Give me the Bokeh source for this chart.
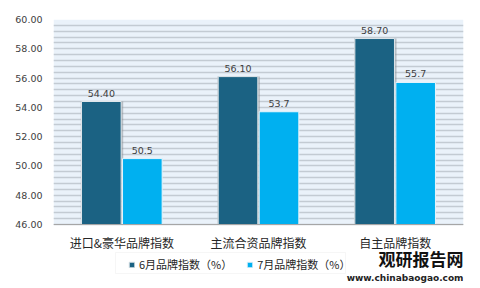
from bokeh.plotting import figure
from bokeh.models import (ColumnDataSource, Legend, LegendItem, SingleIntervalTicker, FixedTicker,
                          LabelSet, Label, BoxAnnotation, Range1d, PrintfTickFormatter, CategoricalAxis)
from bokeh.core.properties import value
from bokeh.transform import dodge
from bokeh.embed import file_html
from bokeh.resources import INLINE

categories = ["进口&豪华品牌指数", "主流合资品牌指数", "自主品牌指数"]
june_values = [54.40, 56.10, 58.70]
july_values = [50.5, 53.7, 55.7]
june_labels = ["54.40", "56.10", "58.70"]
july_labels = ["50.5", "53.7", "55.7"]
series_names = ["6月品牌指数（%）", "7月品牌指数（%）"]
y_ticks = [46, 48, 50, 52, 54, 56, 58, 60]
Y_MIN, Y_MAX = 46, 60

DARK = "#1b6283"
LIGHT = "#00b0f0"
CJK = "Noto Sans CJK SC"
NUM = "DejaVu Sans"

W, H = 480, 288
TOP, BOTTOM_PX = 19, 224          # pixel rows of 60 and 46
ppu = (BOTTOM_PX - TOP) / (Y_MAX - Y_MIN)
y_start = Y_MIN - (H - BOTTOM_PX) / ppu   # room below the axis for legend & labels

src = ColumnDataSource(dict(cat=categories, june=june_values, july=july_values,
                            jl=june_labels, ll=july_labels))

p = figure(x_range=categories, y_range=Range1d(y_start, Y_MAX), width=W, height=H,
           output_backend="svg", toolbar_location=None, x_axis_location=None,
           min_border_left=53, min_border_right=17, min_border_top=TOP, min_border_bottom=0)
p.background_fill_color = "white"
p.border_fill_color = "white"
p.outline_line_color = None

# plot-area background (below the grid)
p.add_layout(BoxAnnotation(bottom=Y_MIN, top=Y_MAX, fill_color="#eaf2fa", fill_alpha=1,
                           line_color=None, level="image"))

# grid stripes
p.xgrid.grid_line_color = None
p.ygrid.ticker = SingleIntervalTicker(interval=0.4, num_minor_ticks=0)
p.ygrid.bounds = (Y_MIN, Y_MAX)
p.ygrid.grid_line_color = "#c3cbd3"
p.ygrid.grid_line_width = 1.5

# shadow behind dark bars
p.vbar(x=dodge("cat", -0.145, range=p.x_range), bottom=Y_MIN, top="june", width=0.31,
       source=src, fill_color="#8e9499", fill_alpha=0.55, line_color=None)
r1 = p.vbar(x=dodge("cat", -0.15, range=p.x_range), bottom=Y_MIN, top="june", width=0.29,
            source=src, fill_color=DARK, line_color="#dfe6ea", line_width=1)
r2 = p.vbar(x=dodge("cat", 0.15, range=p.x_range), bottom=Y_MIN, top="july", width=0.29,
            source=src, fill_color=LIGHT, line_color="#e6f4fb", line_width=1)

p.add_layout(LabelSet(x=dodge("cat", -0.15, range=p.x_range), y="june", text="jl", source=src,
                      text_align="center", text_baseline="bottom", y_offset=5,
                      text_font=value(NUM), text_font_size=value("9.5px"),
                      text_color="#404040"))
p.add_layout(LabelSet(x=dodge("cat", 0.15, range=p.x_range), y="july", text="ll", source=src,
                      text_align="center", text_baseline="bottom", y_offset=5,
                      text_font=value(NUM), text_font_size=value("9.5px"), text_color="#404040"))

# y axis
p.yaxis.ticker = FixedTicker(ticks=y_ticks)
p.yaxis.formatter = PrintfTickFormatter(format="%.2f")
p.yaxis.axis_line_color = None
p.yaxis.major_tick_line_color = None
p.yaxis.minor_tick_line_color = None
p.yaxis.major_tick_out = 0
p.yaxis.minor_tick_out = 0
p.yaxis.major_label_standoff = 11
p.yaxis.major_label_text_font = NUM
p.yaxis.major_label_text_font_size = "9.5px"
p.yaxis.major_label_text_color = "#404040"

# x axis fixed at the bottom of the value range
xaxis = CategoricalAxis(fixed_location=Y_MIN)
xaxis.axis_line_color = "#a6a6a6"
xaxis.major_tick_line_color = None
xaxis.minor_tick_line_color = None
xaxis.major_tick_out = 0
xaxis.minor_tick_out = 0
xaxis.major_label_standoff = 9
xaxis.major_label_text_font = CJK
xaxis.major_label_text_font_size = "12px"
xaxis.major_label_text_color = "#262626"
p.add_layout(xaxis, "below")

# legend box + legend
p.add_layout(BoxAnnotation(left=62, right=292, bottom=15, top=36,
                           left_units="screen", right_units="screen", top_units="screen", bottom_units="screen",
                           fill_color="white", fill_alpha=1, line_color="#e2e2e2", line_width=1))
legend = Legend(items=[LegendItem(label=series_names[0], renderers=[r1]),
                       LegendItem(label=series_names[1], renderers=[r2])],
                orientation="horizontal", location=(75, 16),
                label_text_font=CJK, label_text_font_size="11px", label_text_color="#262626",
                glyph_width=7, glyph_height=7, spacing=14, padding=4, margin=0,
                label_standoff=4, label_height=14,
                border_line_color=None, background_fill_alpha=0)
p.add_layout(legend, "center")

# watermark
p.add_layout(Label(x=410, y=30, x_units="screen", y_units="screen", text="观研报告网",
                   text_font=CJK, text_font_style="bold", text_font_size="17px", text_color="#111111",
                   text_baseline="middle", text_align="right"))
p.add_layout(Label(x=410, y=11, x_units="screen", y_units="screen", text="www.chinabaogao.com",
                   text_font=NUM, text_font_style="bold", text_font_size="9px", text_color="#222222",
                   text_baseline="middle", text_align="right"))

open("out.html", "w").write(file_html(p, INLINE))
